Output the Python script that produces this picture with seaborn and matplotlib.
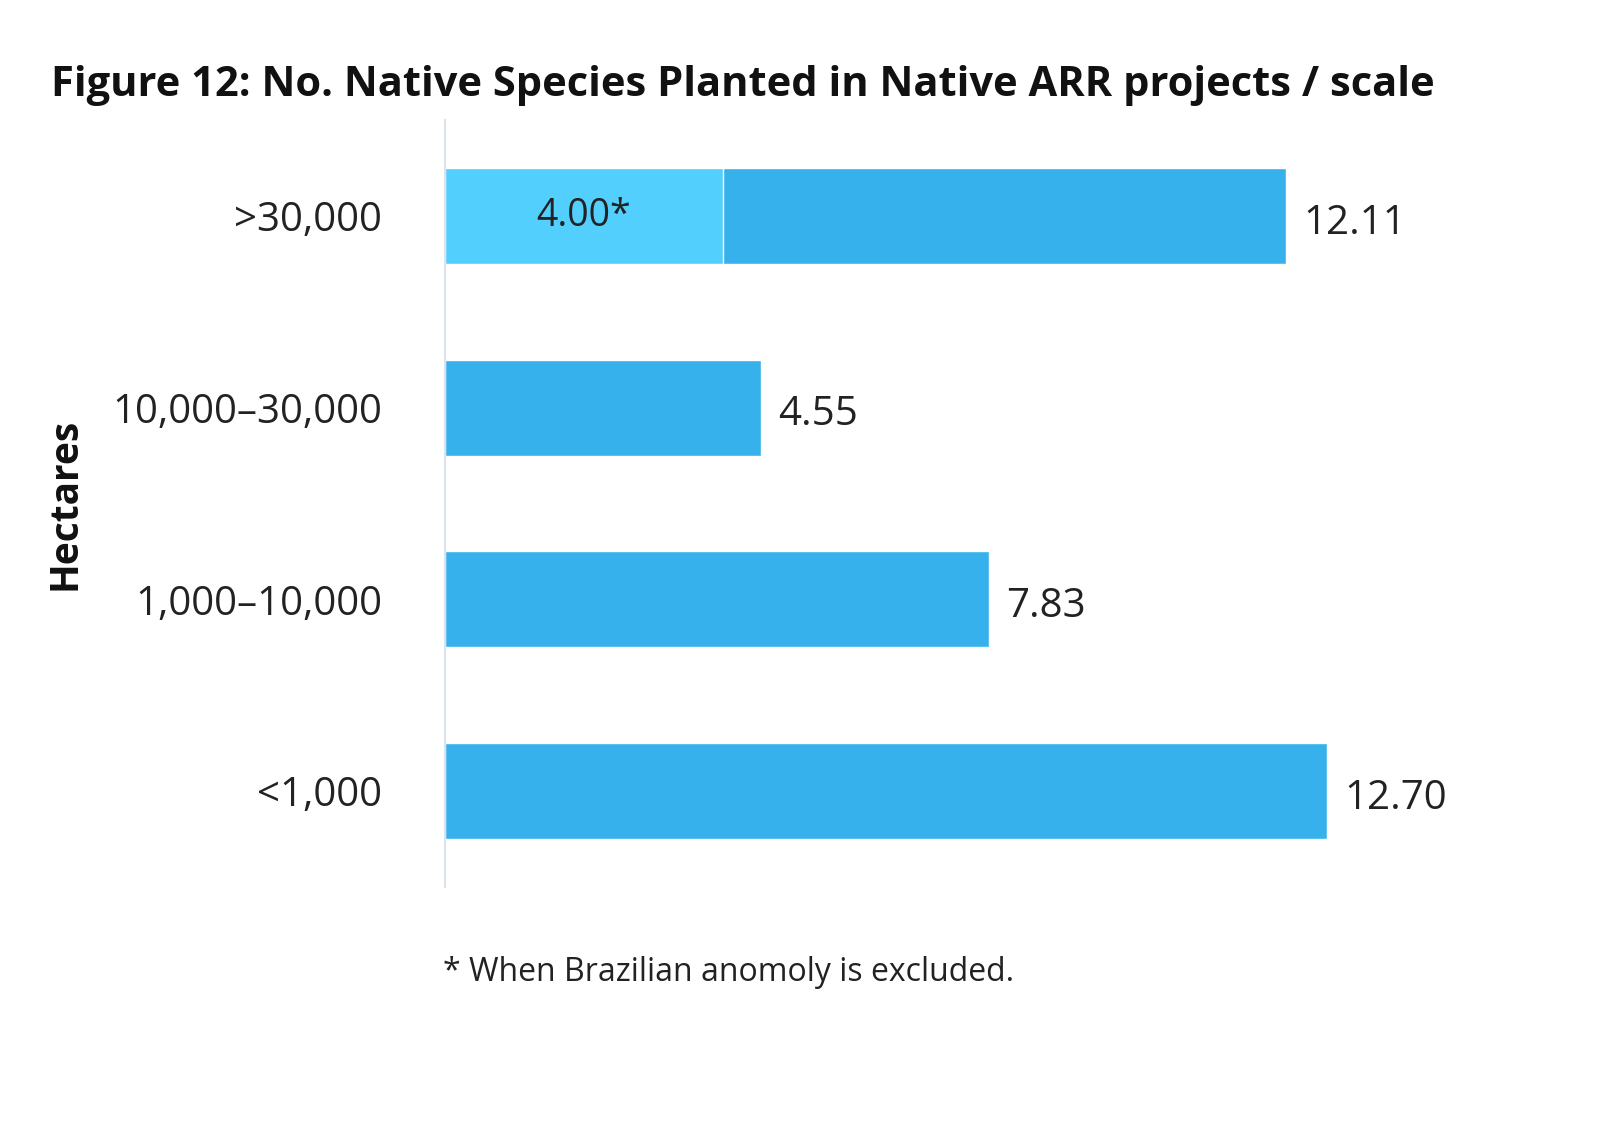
import numpy as np
import pandas as pd
import matplotlib.pyplot as plt
import seaborn as sns

# Data
categories = ['>30,000', '10,000–30,000', '1,000–10,000', '<1,000']
values = [12.11, 4.55, 7.83, 12.70]
excluded_cat = ['>30,000']
excluded_val = [4.00]

BAR = '#36b1ec'
LIGHT = '#52cffc'

sns.set_style('white')
plt.rcParams['font.family'] = ['Open Sans', 'DejaVu Sans']

fig = plt.figure(figsize=(16, 11.38), dpi=100)
ax = fig.add_axes([0.278, 0.2206, 0.66, 0.674])

df = pd.DataFrame({'scale': categories, 'species': values})
sns.barplot(data=df, x='species', y='scale', order=categories, color=BAR,
            width=0.5, saturation=1, ax=ax)
df2 = pd.DataFrame({'scale': excluded_cat, 'species': excluded_val})
sns.barplot(data=df2, x='species', y='scale', order=categories, color=LIGHT,
            width=0.5, saturation=1, ax=ax)

for i, v in enumerate(values):
    ax.text(v + 0.25, i + 0.04, f'{v:.2f}', va='center', ha='left',
            fontsize=29, color='#222222')
ax.text(excluded_val[0] / 2, 0, f'{excluded_val[0]:.2f}*', va='center', ha='center',
        fontsize=27, color='#222222')

ax.set_xlim(0, 15.2)
ax.set_ylim(3.5, -0.5)
ax.set_xticks([])
ax.set_yticks(np.arange(-0.5, 4, 1), minor=False)
ax.set_yticklabels([])
ax.set_yticks(np.arange(4), minor=True)
ax.set_yticklabels(categories, minor=True, fontsize=29, color='#222222')
ax.tick_params(axis='y', which='major', length=16, width=1.5, color='#dde3ee')
ax.tick_params(axis='y', which='minor', length=0, pad=45)
for s in ['top', 'right', 'bottom']:
    ax.spines[s].set_visible(False)
ax.spines['left'].set_color('#dde3ee')
ax.spines['left'].set_linewidth(1.5)
ax.set_xlabel('')
ax.set_ylabel('Hectares', fontsize=28, fontweight='bold', labelpad=20, color='#111111')

fig.text(0.032, 0.925, 'Figure 12: No. Native Species Planted in Native ARR projects / scale',
         fontsize=30, fontweight='bold', color='#111111', va='center')
fig.text(0.277, 0.145, '* When Brazilian anomoly is excluded.', fontsize=23,
         color='#222222', va='center')

fig.savefig('out.png', dpi=100, facecolor='white')
